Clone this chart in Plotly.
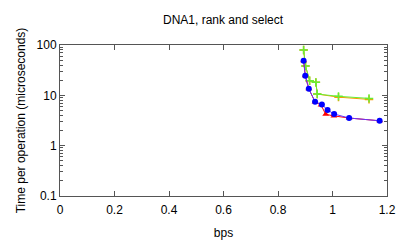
import plotly.graph_objects as go

title = "DNA1, rank and select"

red_x = [0.894, 0.900, 0.913, 0.936, 0.958, 0.975, 1.005, 1.061, 1.173]
red_y = [48.7, 24.5, 13.5, 7.4, 6.4, 4.2, 3.9, 3.54, 3.12]

blue_x = [0.894, 0.900, 0.913, 0.936, 0.961, 0.982, 1.006, 1.061, 1.173]
blue_y = [48.7, 24.5, 13.5, 7.46, 6.6, 5.1, 4.25, 3.54, 3.12]

orange_x = [0.894, 0.901, 0.916, 0.939, 0.944, 1.022, 1.134]
orange_y = [79.5, 38.3, 19.5, 18.1, 10.6, 9.2, 8.3]

green_x = [0.894, 0.901, 0.916, 0.939, 0.944, 1.022, 1.134]
green_y = [79.5, 38.3, 19.5, 18.1, 10.6, 9.55, 8.7]

y_ticks = [0.1, 1, 10, 100]
y_tick_labels = ["0.1", "1", "10", "100"]
x_ticks = [0, 0.2, 0.4, 0.6, 0.8, 1, 1.2]
x_tick_labels = ["0", "0.2", "0.4", "0.6", "0.8", "1", "1.2"]

minor_y = [m * 10 ** e for e in (-1, 0, 1) for m in range(2, 10)]

fig = go.Figure()
fig.add_trace(go.Scatter(x=orange_x, y=orange_y, mode="lines+markers",
                         line=dict(color="#ff9900", width=1),
                         marker=dict(symbol="cross-thin-open", size=6,
                                     line=dict(color="#ff9900", width=1.5))))
fig.add_trace(go.Scatter(x=green_x, y=green_y, mode="lines+markers",
                         line=dict(color="#66ee33", width=1),
                         marker=dict(symbol="cross-thin-open", size=6,
                                     line=dict(color="#66ee33", width=1.5))))
fig.add_trace(go.Scatter(x=red_x, y=red_y, mode="lines+markers",
                         line=dict(color="#ff0000", width=1),
                         marker=dict(symbol="triangle-up", size=6, color="#ff0000")))
fig.add_trace(go.Scatter(x=blue_x, y=blue_y, mode="lines+markers",
                         line=dict(color="#6633ff", width=1),
                         marker=dict(symbol="circle", size=6, color="#0000ff")))

font = "Liberation Sans, Arial, Helvetica, sans-serif"
# page body has an 8px margin, so the figure is sized/offset to compensate
fig.update_layout(
    width=399, height=236,
    margin=dict(l=52, r=20, t=37, b=48, autoexpand=False),
    paper_bgcolor="white", plot_bgcolor="white",
    showlegend=False,
    font=dict(family=font, size=12, color="black"),
    title=dict(text=title, x=0.539, xanchor="center", y=0.95, yanchor="middle",
               font=dict(size=12)),
)
fig.update_xaxes(
    automargin=False,
    range=[0, 1.2], tickmode="array", tickvals=x_ticks, ticktext=x_tick_labels,
    ticks="inside", ticklen=5, tickcolor="#555", showgrid=False, zeroline=False,
    showline=True, linecolor="#555", linewidth=1, mirror="ticks",
    ticklabelstandoff=3,
    title=dict(text="bps", standoff=12, font=dict(size=12)),
)
fig.update_yaxes(
    automargin=False,
    type="log", range=[-1, 2], tickmode="array", tickvals=y_ticks, ticktext=y_tick_labels,
    ticks="inside", ticklen=5, tickcolor="#555", showgrid=False, zeroline=False,
    showline=True, linecolor="#555", linewidth=1, mirror="ticks",
    minor=dict(tickmode="array", tickvals=minor_y, ticks="inside", ticklen=3,
               tickcolor="#555", showgrid=False),
    title=dict(text="Time per operation (microseconds)", standoff=8, font=dict(size=12)),
)

fig.write_html("out.html")
